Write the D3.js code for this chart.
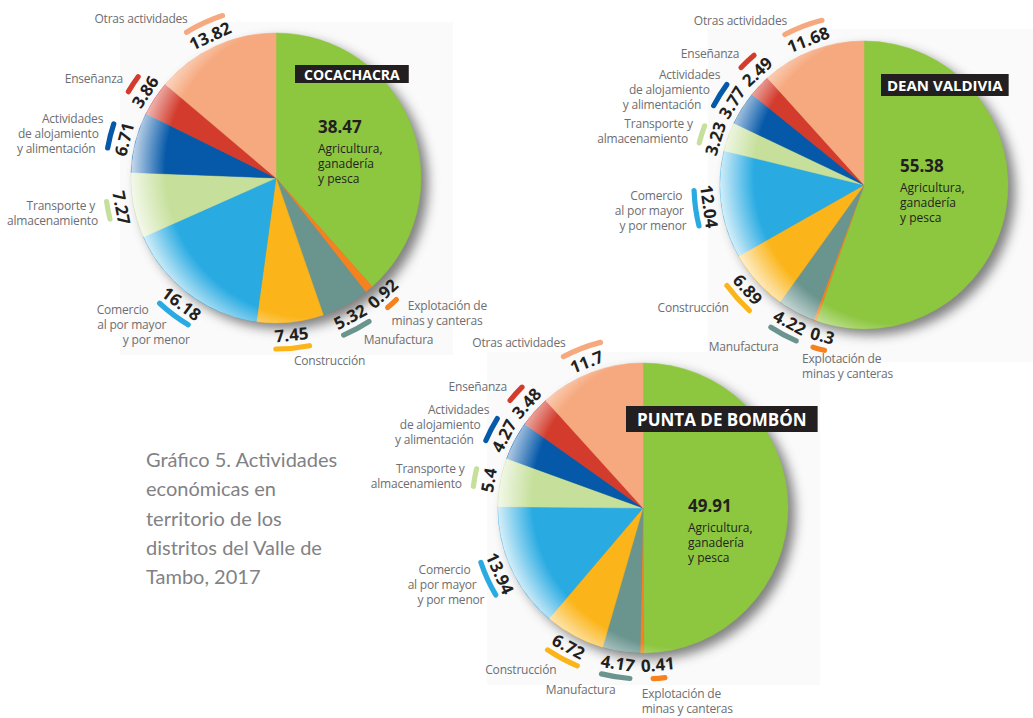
<!DOCTYPE html>
<html><head><meta charset="utf-8">
<script src="https://cdn.jsdelivr.net/npm/d3@7"></script>
<style>body{margin:0;background:#fff}svg{display:block}</style>
</head><body>
<svg id="c" width="1033" height="718"></svg>
<script>
// ---------- data ----------
const categories = ["Agricultura, ganadería y pesca","Explotación de minas y canteras","Manufactura","Construcción","Comercio al por mayor y por menor","Transporte y almacenamiento","Actividades de alojamiento y alimentación","Enseñanza","Otras actividades"];
const labelLines = [["Agricultura,","ganadería","y pesca"],["Explotación de","minas y canteras"],["Manufactura"],["Construcción"],["Comercio","al por mayor","y por menor"],["Transporte y","almacenamiento"],["Actividades","de alojamiento","y alimentación"],["Enseñanza"],["Otras actividades"]];
const districts = ["COCACHACRA","DEAN VALDIVIA","PUNTA DE BOMBÓN"];
const cocachacra    = [38.47, 0.92, 5.32, 7.45, 16.18, 7.27, 6.71, 3.86, 13.82];
const deanValdivia  = [55.38, 0.3, 4.22, 6.89, 12.04, 3.23, 3.77, 2.49, 11.68];
const puntaDeBombon = [49.91, 0.41, 4.17, 6.72, 13.94, 5.4, 4.27, 3.48, 11.7];
const titleLines = ["Gráfico 5. Actividades","económicas en","territorio de los","distritos del Valle de","Tambo, 2017"];

// ---------- style / layout ----------
const colors = ["#8dc63f","#f5821f","#6a958f","#fbb51a","#29abe2","#c6e09b","#0659a9","#d33c2d","#f6a97e"];
const markLength = [0, 17, 34, 39, 41, 23, 30, 23, 45];
const layout = [
  {cx:276, cy:178, r:145, title:{dx:19, dy:-113, size:14, padX:9,  h:18}, inner:{dx:42, dy:-45}},
  {cx:864, cy:185, r:144, title:{dx:17, dy:-111, size:15, padX:6,  h:22}, inner:{dx:36, dy:-13}},
  {cx:643, cy:508, r:145, title:{dx:-17,dy:-102, size:17, padX:11, h:26}, inner:{dx:45, dy:4}}
];
const seriesList = [cocachacra, deanValdivia, puntaDeBombon];

const svg = d3.select("#c");
svg.append("rect").attr("width",1033).attr("height",718).attr("fill","#fff");
const defs = svg.append("defs");
const filt = defs.append("filter").attr("id","sh").attr("x","-30%").attr("y","-30%").attr("width","160%").attr("height","160%");
filt.append("feGaussianBlur").attr("stdDeviation",6);
const rim = defs.append("radialGradient").attr("id","rim").attr("cx",0.63).attr("cy",0.47).attr("r",0.64);
rim.append("stop").attr("offset",0).attr("stop-color","#fff").attr("stop-opacity",0);
rim.append("stop").attr("offset",0.8).attr("stop-color","#fff").attr("stop-opacity",0);
rim.append("stop").attr("offset",1).attr("stop-color","#fff").attr("stop-opacity",0.85);

const deg = Math.PI/180;
const VALUE_FONT = "'Open Sans', 'Noto Sans', sans-serif";

// tiles
layout.forEach(L => {
  svg.append("rect").attr("x",L.cx-156).attr("y",L.cy-156).attr("width",333).attr("height",333).attr("fill","#fafafa");
});

// measuring helper
const meas = svg.append("text").attr("font-family",VALUE_FONT).attr("font-weight",700).attr("font-size",17).attr("opacity",0);
function textW(s){ meas.text(s); return meas.node().getComputedTextLength(); }

function spread(angles, weights, widths, R){
  const a = angles.slice();
  for(let it=0; it<80; it++){
    for(let i=1;i<a.length-1;i++){
      const need = ((widths[i]+widths[i+1])/2 + 6)/R/deg;
      const gap = a[i+1]-a[i];
      if(gap < need){
        const d = need-gap;
        const wi = weights[i+1]/(weights[i]+weights[i+1]);
        a[i] -= d*wi; a[i+1] += d*(1-wi);
      }
    }
  }
  return a;
}

seriesList.forEach((values, k) => {
  const L = layout[k];
  const g = svg.append("g").attr("transform",`translate(${L.cx},${L.cy})`);
  const pie = d3.pie().sort(null).value(d=>d)(values);
  const arc = d3.arc().innerRadius(0).outerRadius(L.r);

  // shadow
  g.append("circle").attr("cx",7).attr("cy",6).attr("r",L.r).attr("fill","#555").attr("opacity",0.75).attr("filter","url(#sh)");
  // slices
  g.selectAll("path.slice").data(pie).join("path").attr("class","slice")
    .attr("d",arc).attr("fill",(d,i)=>colors[i]).attr("stroke",(d,i)=>colors[i]).attr("stroke-width",0.5);
  // rim light
  g.append("circle").attr("r",L.r).attr("fill","url(#rim)");

  // district title box
  const tb = g.append("g");
  const tt = tb.append("text").attr("x",L.title.dx+L.title.padX).attr("y",L.title.dy+L.title.h/2)
    .attr("dominant-baseline","central").attr("font-family",VALUE_FONT).attr("font-weight",700)
    .attr("font-size",L.title.size).attr("fill","#fff").text(districts[k]);
  const tw = tt.node().getComputedTextLength();
  tb.insert("rect","text").attr("x",L.title.dx).attr("y",L.title.dy).attr("width",tw+2*L.title.padX).attr("height",L.title.h).attr("fill","#231f20");

  // inner label for the largest slice
  const inner = g.append("text").attr("font-family",VALUE_FONT).attr("fill","#231f20");
  inner.append("tspan").attr("x",L.inner.dx).attr("y",L.inner.dy).attr("font-weight",700).attr("font-size",17).text(values[0]);
  labelLines[0].forEach((ln,j)=>{
    inner.append("tspan").attr("x",L.inner.dx).attr("y",L.inner.dy+20+15*j).attr("font-size",12).text(ln);
  });

  // outside labels
  const mids = pie.map(d => (d.startAngle+d.endAngle)/2/deg);
  const strs = values.map(v=>String(v));
  const widths = strs.map(textW);
  const Rv = L.r+12, Ra = L.r+26, Rl = L.r+38;
  const ang = spread(mids, values, widths, Rv);

  for(let i=1;i<values.length;i++){
    const a = ang[i];
    const s = Math.sin(a*deg), c = Math.cos(a*deg);
    // colored arc mark
    const half = markLength[i]/2/Ra;
    g.append("path").attr("d", d3.arc().innerRadius(Ra-2.6).outerRadius(Ra+2.6).cornerRadius(2.6)
       .startAngle(a*deg-half).endAngle(a*deg+half)()).attr("fill",colors[i]);
    // value text
    let rot = ((a%360)+360)%360;
    rot = (rot>90 && rot<270) ? rot-180 : (rot>=270 ? rot-360 : rot);
    g.append("text").attr("transform",`translate(${Rv*s},${-Rv*c}) rotate(${rot})`)
      .attr("text-anchor","middle").attr("dominant-baseline","central")
      .attr("font-family",VALUE_FONT).attr("font-weight",700).attr("font-size",17).attr("fill","#231f20")
      .text(strs[i]);
    // category text
    const lines = labelLines[i];
    const n = lines.length, lh = 15;
    const nearBottom = Math.abs(s)<0.5 && c<0;
    const nearTop = Math.abs(s)<0.5 && c>0;
    let anchor = (s>0 || i===1) ? "start" : "end";
    const t = g.append("text").attr("font-family",VALUE_FONT).attr("font-size",12).attr("letter-spacing",-0.2)
      .attr("fill","#6d6e71").attr("dominant-baseline","central");
    if(nearTop){
      const b = (a-4)*deg;
      const px = Rl*Math.sin(b), py = -Rl*Math.cos(b);
      anchor = "end";
      lines.forEach((ln,j)=>t.append("tspan").attr("x",px).attr("y",py+(j-(n-1)/2)*lh).text(ln));
    } else if(nearBottom){
      const m = mids[i]*deg;
      const px = Rl*Math.sin(m), py = -Rl*Math.cos(m);
      lines.forEach((ln,j)=>t.append("tspan").attr("x",px).attr("y",py+(n-1)*2+j*lh).text(ln));
    } else {
      const py = -Rl*c;
      const sign = anchor==="start" ? 1 : -1;
      lines.forEach((ln,j)=>{
        const y = py+(j-(n-1)/2)*lh;
        const x = Math.abs(y)<Rl ? sign*Math.sqrt(Rl*Rl-y*y) : Rl*s;
        t.append("tspan").attr("x",x).attr("y",y).text(ln);
      });
    }
    t.attr("text-anchor",anchor);
  }
});
meas.remove();

// main caption
const cap = svg.append("text").attr("font-family","Lato, 'Open Sans', sans-serif").attr("font-size",20).attr("fill","#808285");
titleLines.forEach((ln,j)=>cap.append("tspan").attr("x",146).attr("y",467+29.3*j).text(ln));
</script>
</body></html>
